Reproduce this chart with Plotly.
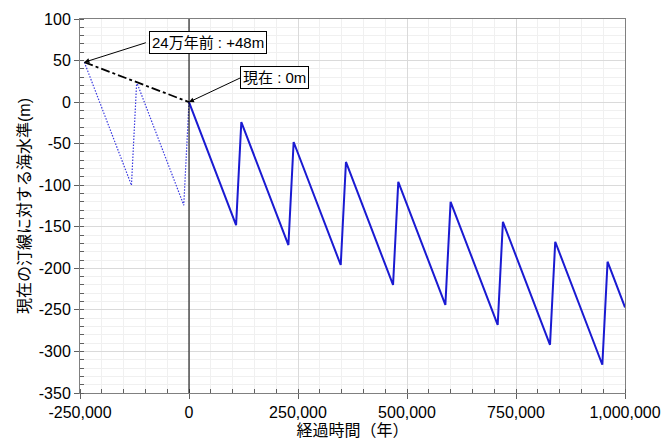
import plotly.graph_objects as go

# Sea level sawtooth (years elapsed, metres relative to present shoreline)
solid_years = [0, 108000, 120000, 228000, 240000, 348000, 360000, 468000, 480000,
               588000, 600000, 708000, 720000, 828000, 840000, 948000, 960000, 1000000]
solid_level = [0, -148, -24, -172, -48, -196, -72, -220, -96,
               -244, -120, -268, -144, -292, -168, -316, -192, -247]

past_years = [-240000, -132000, -120000, -12000, 0]
past_level = [48, -100, 24, -124, 0]

trend_years = [-240000, 0]
trend_level = [48, 0]

x_tickvals = [-250000, 0, 250000, 500000, 750000, 1000000]
x_ticktext = ["-250,000", "0", "250,000", "500,000", "750,000", "1,000,000"]
y_tickvals = [100, 50, 0, -50, -100, -150, -200, -250, -300, -350]
y_ticktext = ["100", "50", "0", "-50", "-100", "-150", "-200", "-250", "-300", "-350"]

label_past = "24万年前 : +48m"
label_now = "現在 : 0m"
x_title = "経過時間（年）"
y_title = "現在の汀線に対する海水準(m)"

FONT = "Liberation Sans, Arial, Noto Sans CJK JP, sans-serif"
BLUE = "#1a1ad2"

fig = go.Figure()
fig.add_trace(go.Scatter(x=past_years, y=past_level, mode="lines",
                         line=dict(color="#3a3ae0", width=1.2, dash="1.5px,1.5px"),
                         hoverinfo="skip", showlegend=False))
fig.add_trace(go.Scatter(x=trend_years, y=trend_level, mode="lines",
                         line=dict(color="black", width=1.8, dash="dashdot"),
                         hoverinfo="skip", showlegend=False))
fig.add_trace(go.Scatter(x=solid_years, y=solid_level, mode="lines",
                         line=dict(color=BLUE, width=2),
                         hoverinfo="skip", showlegend=False))

fig.add_shape(type="line", xref="x", yref="paper", x0=0, x1=0, y0=0, y1=1,
              line=dict(color="black", width=1))

# arrows
fig.add_annotation(x=trend_years[0], y=trend_level[0], xref="x", yref="y",
                   text="", showarrow=True, ax=63, ay=-20, axref="pixel", ayref="pixel",
                   arrowhead=2, arrowsize=1, arrowwidth=1, arrowcolor="black")
fig.add_annotation(x=trend_years[1], y=trend_level[1], xref="x", yref="y",
                   text="", showarrow=True, ax=53, ay=-25, axref="pixel", ayref="pixel",
                   arrowhead=2, arrowsize=1, arrowwidth=1, arrowcolor="black")
# label boxes
fig.add_annotation(x=43600, y=71.5, xref="x", yref="y", text=label_past, showarrow=False,
                   font=dict(family=FONT, size=15, color="black"),
                   bgcolor="white", bordercolor="black", borderwidth=1, borderpad=2)
fig.add_annotation(x=196000, y=29.5, xref="x", yref="y", text=label_now, showarrow=False,
                   font=dict(family=FONT, size=15, color="black"),
                   bgcolor="white", bordercolor="black", borderwidth=1, borderpad=2)

axis_common = dict(
    showline=True, linecolor="#808080", linewidth=1, mirror=True,
    showgrid=True, gridcolor="#dadada", gridwidth=1,
    zeroline=False, ticks="outside", ticklen=5, tickcolor="#606060", tickwidth=1,
    tickfont=dict(family=FONT, size=16, color="black"), automargin=False,
)

fig.update_xaxes(range=[-250000, 1000000], tickvals=x_tickvals, ticktext=x_ticktext,
                 minor=dict(dtick=50000, tick0=0, showgrid=True, gridcolor="#f0f0f0",
                            ticks="inside", ticklen=4, tickcolor="#606060"),
                 title=dict(text=x_title, font=dict(family=FONT, size=16, color="black"),
                            standoff=4),
                 **axis_common)
fig.update_yaxes(range=[-350, 100], tickvals=y_tickvals, ticktext=y_ticktext,
                 minor=dict(dtick=10, tick0=0, showgrid=True, gridcolor="#f0f0f0",
                            ticks="inside", ticklen=4, tickcolor="#606060"),
                 title=dict(text=y_title, font=dict(family=FONT, size=16, color="black"),
                            standoff=4),
                 **axis_common)

fig.update_layout(width=662, height=444, margin=dict(l=80, r=37, t=19, b=51),
                  plot_bgcolor="white", paper_bgcolor="white", showlegend=False,
                  font=dict(family=FONT))

fig.write_html("out.html", config={"displayModeBar": False},
               post_script="document.body.style.margin='0';document.body.style.padding='0';")
